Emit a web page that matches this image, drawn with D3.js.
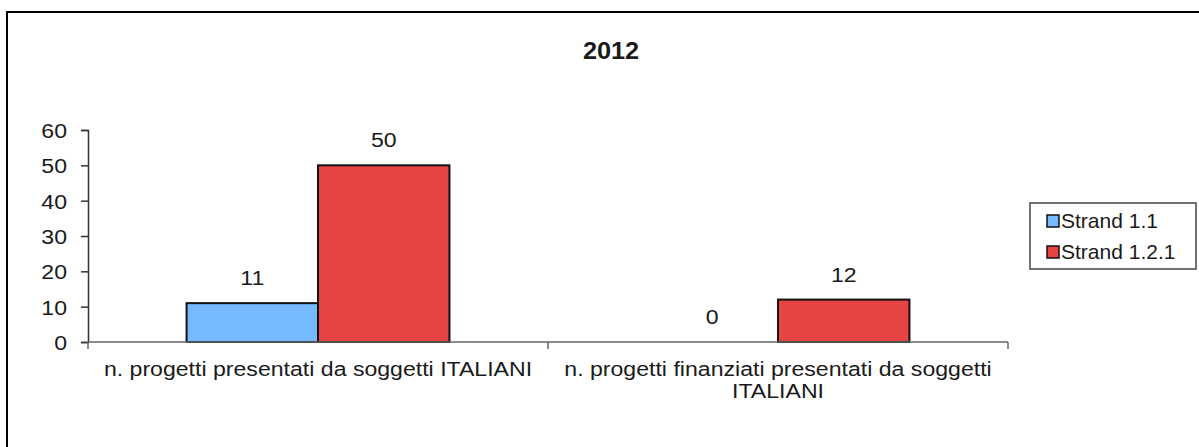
<!DOCTYPE html>
<html>
<head>
<meta charset="utf-8">
<script src="https://cdn.jsdelivr.net/npm/d3@7"></script>
<style>
  body { margin: 0; background: #fff; }
  text { font-family: "Liberation Sans", Arial, sans-serif; fill: #1a1a1a; }
</style>
</head>
<body>
<div id="chart"></div>
<script>
const categories = [
  "n. progetti presentati da soggetti ITALIANI",
  "n. progetti finanziati presentati da soggetti ITALIANI",
];
const seriesNames = ["Strand 1.1", "Strand 1.2.1"];
const strand11 = [11, 0];
const strand121 = [50, 12];
const yTicks = [0, 10, 20, 30, 40, 50, 60];
const titleText = "2012";

const colors = ["#75b9fe", "#e64543"];
const width = 1199,
  height = 447;
const marginLeft = 88,
  plotRight = 1008,
  yTop = 130,
  yBottom = 342;
const stretch = 1.1; // text in the picture is a bit wider than Arial

const svg = d3
  .select("#chart")
  .append("svg")
  .attr("width", width)
  .attr("height", height);

// outer frame (runs off the right and bottom edges)
svg
  .append("rect")
  .attr("x", 7)
  .attr("y", 12)
  .attr("width", width)
  .attr("height", height)
  .attr("fill", "none")
  .attr("stroke", "#000")
  .attr("stroke-width", 2);

svg
  .append("text")
  .attr("transform", `translate(611,59) scale(${stretch},1)`)
  .attr("text-anchor", "middle")
  .attr("font-size", 23)
  .attr("font-weight", "bold")
  .text(titleText);

const yScale = d3.scaleLinear().domain([0, 60]).range([yBottom, yTop]);
const xScale = d3
  .scaleBand()
  .domain(categories)
  .range([marginLeft, plotRight])
  .padding(0);

// excel style gap width of 150%
const bw = xScale.bandwidth();
const barW = bw / (seriesNames.length + 1.5);
const gap = (bw - barW * seriesNames.length) / 2;
const xInner = d3
  .scaleBand()
  .domain(seriesNames)
  .range([gap, bw - gap])
  .padding(0);

const rows = categories.map((c, i) => ({
  cat: c,
  values: [
    { name: seriesNames[0], value: strand11[i], color: colors[0] },
    { name: seriesNames[1], value: strand121[i], color: colors[1] },
  ],
}));

// y axis
const yAxis = d3.axisLeft(yScale).tickValues(yTicks).tickSize(7).tickPadding(10);
const yG = svg
  .append("g")
  .attr("transform", `translate(${marginLeft},0)`)
  .call(yAxis);
yG.select(".domain").attr("stroke", "#333").attr("stroke-width", 1.5);
yG.selectAll(".tick line").attr("stroke", "#333").attr("stroke-width", 1.5);
yG.selectAll(".tick text")
  .attr("font-size", 21)
  .attr("fill", "#1a1a1a")
  .attr("font-family", "Liberation Sans, Arial, sans-serif")
  .attr("dy", "0.36em")
  .attr("transform", `scale(${stretch},1)`)
  .attr("x", -21 / stretch);

// bars
const groups = svg
  .selectAll(".group")
  .data(rows)
  .enter()
  .append("g")
  .attr("class", "group")
  .attr("transform", (d) => `translate(${xScale(d.cat)},0)`);

groups
  .selectAll("rect")
  .data((d) => d.values.filter((v) => v.value > 0))
  .enter()
  .append("rect")
  .attr("x", (d) => xInner(d.name))
  .attr("y", (d) => yScale(d.value))
  .attr("width", xInner.bandwidth())
  .attr("height", (d) => yScale(0) - yScale(d.value))
  .attr("fill", (d) => d.color)
  .attr("stroke", "#111")
  .attr("stroke-width", 2);

groups
  .selectAll(".val")
  .data((d) => d.values)
  .enter()
  .append("text")
  .attr("class", "val")
  .attr(
    "transform",
    (d) =>
      `translate(${xInner(d.name) + xInner.bandwidth() / 2},${
        yScale(d.value) - 18
      }) scale(${stretch},1)`
  )
  .attr("text-anchor", "middle")
  .attr("font-size", 21)
  .text((d) => d.value);

// x axis: line with ticks at category boundaries
const xG = svg.append("g").attr("transform", `translate(0,${yBottom})`);
xG.append("line")
  .attr("x1", marginLeft)
  .attr("x2", plotRight)
  .attr("stroke", "#666")
  .attr("stroke-width", 1.5);
const bounds = categories.map((c) => xScale(c)).concat([xScale.range()[1]]);
xG.selectAll(".bt")
  .data(bounds)
  .enter()
  .append("line")
  .attr("x1", (d) => d)
  .attr("x2", (d) => d)
  .attr("y1", 0)
  .attr("y2", 7)
  .attr("stroke", "#666")
  .attr("stroke-width", 1.5);

// category labels, wrapped to the band width
const labels = xG
  .selectAll(".cl")
  .data(categories)
  .enter()
  .append("text")
  .attr("class", "cl")
  .attr(
    "transform",
    (d) => `translate(${xScale(d) + bw / 2},34) scale(${stretch},1)`
  )
  .attr("text-anchor", "middle")
  .attr("font-size", 21);

labels.each(function (d) {
  const t = d3.select(this);
  const words = d.split(" ");
  let line = [];
  let tspan = t.append("tspan").attr("x", 0).attr("dy", 0);
  words.forEach((w) => {
    line.push(w);
    tspan.text(line.join(" "));
    if (tspan.node().getComputedTextLength() * stretch > bw - 10 && line.length > 1) {
      line.pop();
      tspan.text(line.join(" "));
      line = [w];
      tspan = t.append("tspan").attr("x", 0).attr("dy", 22).text(w);
    }
  });
});

// legend
const legend = svg.append("g").attr("transform", "translate(1030,203)");
legend
  .append("rect")
  .attr("width", 166)
  .attr("height", 66)
  .attr("fill", "#fff")
  .attr("stroke", "#444")
  .attr("stroke-width", 1.5);
const items = legend
  .selectAll(".li")
  .data(seriesNames)
  .enter()
  .append("g")
  .attr("class", "li")
  .attr("transform", (d, i) => `translate(17,${12 + i * 31})`);
items
  .append("rect")
  .attr("width", 12)
  .attr("height", 12)
  .attr("fill", (d, i) => colors[i])
  .attr("stroke", "#111")
  .attr("stroke-width", 1.5);
items
  .append("text")
  .attr("x", 14)
  .attr("y", 13)
  .attr("font-size", 21)
  .text((d) => d);
</script>
</body>
</html>
